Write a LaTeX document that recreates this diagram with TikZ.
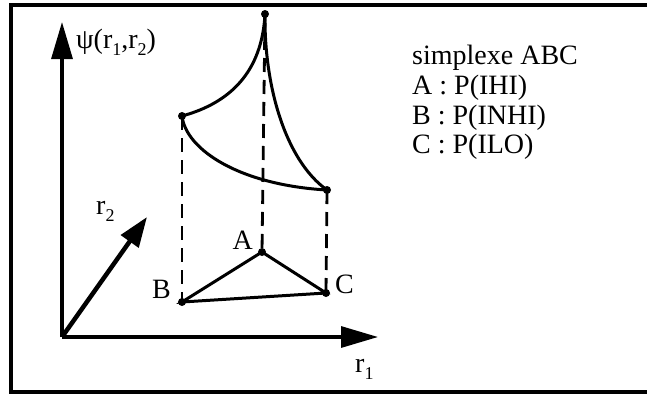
\documentclass[tikz,border=0pt]{standalone}
\usepackage{fontspec}
\setmainfont{Liberation Serif}
\usetikzlibrary{arrows.meta}
\newcommand{\lowidx}[1]{\raisebox{-7pt}{\fontsize{18}{18}\selectfont #1}}
\tikzset{
  frame/.style={line width=3.2pt,draw=black},
  axis/.style={-{Triangle[length=37pt,width=21pt]},line width=3.2pt},
  diag/.style={-{Triangle[length=30pt,width=21pt]},line width=4.5pt},
  edge/.style={line width=3pt},
  drop/.style={line width=2.8pt,dash pattern=on 14pt off 8pt},
  vertex/.style={circle,fill=black,inner sep=0pt,minimum size=8pt},
  lbl/.style={font=\fontsize{28}{30}\selectfont,inner sep=0pt},
}

\begin{document}
\begin{tikzpicture}[x=1pt,y=-1pt]
    \path[use as bounding box] (0,0) rectangle (647,394);

    \draw[frame] (647,5) -- (11,5) -- (11,392) -- (647,392);

    \coordinate (O) at (62,337);
    \coordinate (yend) at (62,22);
    \coordinate (xend) at (378,337);
    \coordinate (dend) at (147,217);
    \draw[axis] (O) -- (yend);
    \draw[axis] (O) -- (xend);
    \draw[diag] (O) -- (dend);
    \node[lbl,anchor=base west] (psi) at (76,48) {ψ(r\lowidx{1},r\lowidx{2})};
    \node[lbl,anchor=base west] (rtwo) at (96,214) {r\lowidx{2}};
    \node[lbl,anchor=base west] (rone) at (355,372) {r\lowidx{1}};

    \node[vertex] (A) at (262,252) {};
    \node[vertex] (B) at (182,302) {};
    \node[vertex] (C) at (326,293) {};
    \node[vertex] (At) at (265,14) {};
    \node[vertex] (Bt) at (182,116) {};
    \node[vertex] (Ct) at (327,190) {};

    \draw[drop] (At.center) -- (A.center);
    \draw[drop] (Bt.center) -- (B.center);
    \draw[drop] (Ct.center) -- (C.center);

    \draw[edge] (A.center) -- (B.center) -- (C.center) -- cycle;
    \draw[edge] (Bt.center) .. controls (230,103) and (262,72) .. (At.center);
    \draw[edge] (Bt.center) .. controls (186,150) and (240,185) .. (Ct.center);
    \draw[edge] (At.center) .. controls (264,85) and (285,160) .. (Ct.center);

    \node[lbl,anchor=base east] (la) at (253,249) {A};
    \node[lbl,anchor=base east] (lb) at (171,298) {B};
    \node[lbl,anchor=base west] (lc) at (335,293) {C};

    \node[lbl,anchor=base west] (title) at (412,64) {simplexe ABC};
    \node[lbl,anchor=base west] (pa) at (412,94) {A : P(IHI)};
    \node[lbl,anchor=base west] (pb) at (412,124) {B : P(INHI)};
    \node[lbl,anchor=base west] (pc) at (412,153) {C : P(ILO)};
\end{tikzpicture}
\end{document}
